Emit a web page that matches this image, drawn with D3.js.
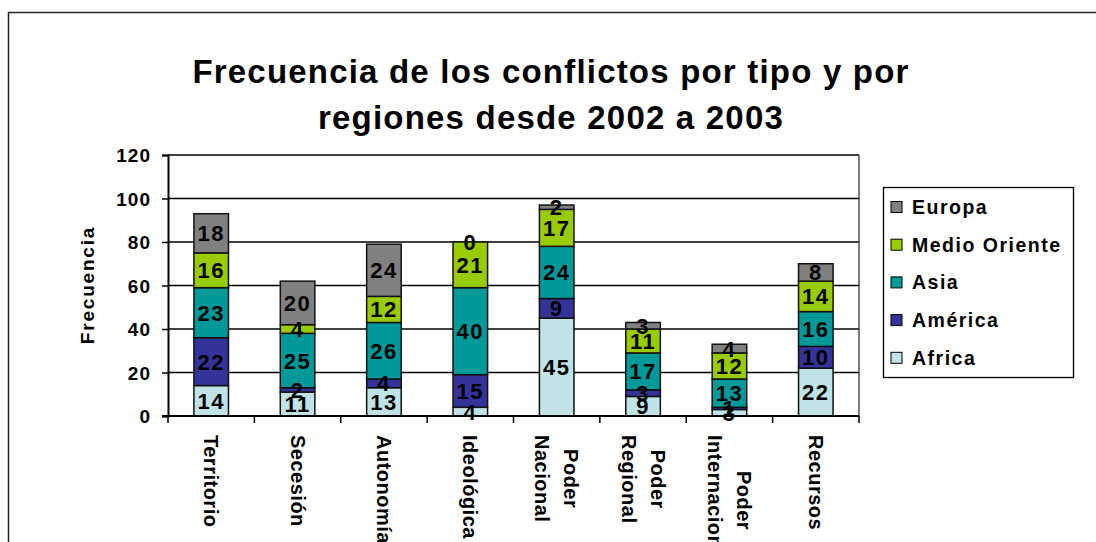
<!DOCTYPE html>
<html>
<head>
<meta charset="utf-8">
<script src="https://cdn.jsdelivr.net/npm/d3@7"></script>
<style>
	body{
		margin:0;
		background:white;
	}
	svg text{
		font-family:"Liberation Sans", Arial, sans-serif;
		font-weight:bold;
		fill:black;
	}
</style>
</head>
<body>
<svg id="chart" width=1096 height=542></svg>

<script>
var categories=[["Territorio"],["Secesión"],["Autonomía"],["Ideológica"],["Poder","Nacional"],["Poder","Regional"],["Poder","Internacional"],["Recursos"]]
var regions=["Africa","América","Asia","Medio Oriente","Europa"]
var colors=["#bfe3e6","#333399","#009999","#99cc00","#808080"]

var africa=[14,11,13,4,45,9,3,22]
var america=[22,2,4,15,9,3,1,10]
var asia=[23,25,26,40,24,17,13,16]
var medioOriente=[16,4,12,21,17,11,12,14]
var europa=[18,20,24,0,2,3,4,8]

var yTicks=[0,20,40,60,80,100,120]

var series=[africa,america,asia,medioOriente,europa]
var catNames=categories.map(function(c){ return c.join(" ") })

var rows=catNames.map(function(name,i){
	var row={cat:name}
	regions.forEach(function(r,j){ row[r]=series[j][i] })
	return row
})

var svg=d3.select('#chart')

// outer frame of the chart object
svg.append("rect")
	.attr("x",8.5)
	.attr("y",12.5)
	.attr("width",1200)
	.attr("height",700)
	.attr("fill","none")
	.style("stroke","#222")
	.style("stroke-width",1.5)

svg.append("text")
	.attr("x",551)
	.attr("text-anchor","middle")
	.style("font-size","33px")
	.style("letter-spacing","1.2px")
	.selectAll("tspan")
	.data(["Frecuencia de los conflictos por tipo y por","regiones desde 2002 a 2003"])
	.enter()
	.append("tspan")
	.attr("x",551)
	.attr("y",function(d,i){ return 83+i*46 })
	.text(function(d){ return d })

var plotLeft=168, plotRight=859, plotTop=155, plotBottom=416

var x=d3.scaleBand()
	.domain(catNames)
	.range([plotLeft,plotRight])
	.paddingInner(0.6)
	.paddingOuter(0.3)

var y=d3.scaleLinear()
	.domain([0,120])
	.range([plotBottom,plotTop])

// gridlines
svg.append("g")
	.selectAll("line")
	.data(yTicks.slice(1))
	.enter()
	.append("line")
	.attr("x1",plotLeft)
	.attr("x2",plotRight)
	.attr("y1",function(d){ return y(d) })
	.attr("y2",function(d){ return y(d) })
	.style("stroke","black")
	.style("stroke-width",1.3)

svg.append("line")
	.attr("x1",plotRight)
	.attr("x2",plotRight)
	.attr("y1",plotTop)
	.attr("y2",plotBottom)
	.style("stroke","#333")
	.style("stroke-width",1.3)

var stack=d3.stack().keys(regions)(rows)

var layers=svg.append("g")
	.selectAll("g")
	.data(stack)
	.enter()
	.append("g")
	.attr("fill",function(d,i){ return colors[i] })

layers.selectAll("rect")
	.data(function(d){ return d })
	.enter()
	.append("rect")
	.attr("x",function(d){ return x(d.data.cat) })
	.attr("y",function(d){ return y(d[1]) })
	.attr("width",x.bandwidth())
	.attr("height",function(d){ return y(d[0])-y(d[1]) })
	.style("stroke","#111")
	.style("stroke-width",1.5)

// value labels in the middle of each segment
var valueLabels=svg.append("g")
	.selectAll("g")
	.data(stack)
	.enter()
	.append("g")

valueLabels.selectAll("text")
	.data(function(d){ return d })
	.enter()
	.append("text")
	.attr("x",function(d){ return x(d.data.cat)+x.bandwidth()/2 })
	.attr("y",function(d){ return y((d[0]+d[1])/2)+8 })
	.attr("text-anchor","middle")
	.style("font-size","22px")
	.style("letter-spacing","1.5px")
	.text(function(d){ return d[1]-d[0] })

// y axis
var yAxis=svg.append("g")
	.attr("transform","translate("+plotLeft+",0)")
	.call(d3.axisLeft(y).tickValues(yTicks).tickSize(6).tickPadding(11))
yAxis.select(".domain").style("stroke","black").style("stroke-width",2)
yAxis.selectAll(".tick line").style("stroke","black").style("stroke-width",1.5)
yAxis.selectAll(".tick text")
	.attr("fill","black")
	.style("font-family","'Liberation Sans', Arial, sans-serif")
	.style("font-weight","bold")
	.style("font-size","19px")
	.style("letter-spacing","1px")
	.attr("dy","0.36em")

// x axis line and ticks at band boundaries
svg.append("line")
	.attr("x1",plotLeft-6)
	.attr("x2",plotRight)
	.attr("y1",plotBottom)
	.attr("y2",plotBottom)
	.style("stroke","black")
	.style("stroke-width",2)

var bounds=catNames.map(function(c){ return x(c)-x.step()*x.paddingInner()/2 })
bounds.push(plotRight)
svg.append("g")
	.selectAll("line")
	.data(bounds)
	.enter()
	.append("line")
	.attr("x1",function(d){ return d })
	.attr("x2",function(d){ return d })
	.attr("y1",plotBottom)
	.attr("y2",plotBottom+7)
	.style("stroke","black")
	.style("stroke-width",1.5)

// rotated category labels
var catLabels=svg.append("g")
	.selectAll("text")
	.data(categories)
	.enter()
	.append("text")
	.attr("transform",function(d,i){ return "translate("+(x(catNames[i])+x.bandwidth()/2)+",0) rotate(90)" })
	.style("font-size","20px")
	.style("letter-spacing","0.5px")
	.attr("text-anchor","middle")

catLabels.each(function(d){
	var t=d3.select(this)
	var n=d.length
	d.forEach(function(line,k){
		t.append("tspan")
			.attr("y",7+(k-(n-1)/2)*29)
			.text(line)
	})
	var maxLen=0
	t.selectAll("tspan").each(function(){ maxLen=Math.max(maxLen,this.getComputedTextLength()) })
	t.selectAll("tspan").attr("x",435+maxLen/2)
})

svg.append("text")
	.attr("transform","translate(94,285) rotate(-90)")
	.attr("text-anchor","middle")
	.style("font-size","19px")
	.style("letter-spacing","1.8px")
	.text("Frecuencia")

// legend, top entry is Europa
var legend=svg.append("g")
legend.append("rect")
	.attr("x",883.5)
	.attr("y",187.5)
	.attr("width",190)
	.attr("height",190)
	.attr("fill","white")
	.style("stroke","black")
	.style("stroke-width",1.3)

var items=legend.selectAll("g")
	.data(regions.slice().reverse())
	.enter()
	.append("g")
	.attr("transform",function(d,i){ return "translate(0,"+(207+i*37.7)+")" })

items.append("rect")
	.attr("x",891)
	.attr("y",-5.5)
	.attr("width",11)
	.attr("height",11)
	.attr("fill",function(d){ return colors[regions.indexOf(d)] })
	.style("stroke","black")
	.style("stroke-width",1)

items.append("text")
	.attr("x",912)
	.attr("y",7)
	.style("font-size","19.5px")
	.style("letter-spacing","1.5px")
	.text(function(d){ return d })
</script>
</body>
</html>
